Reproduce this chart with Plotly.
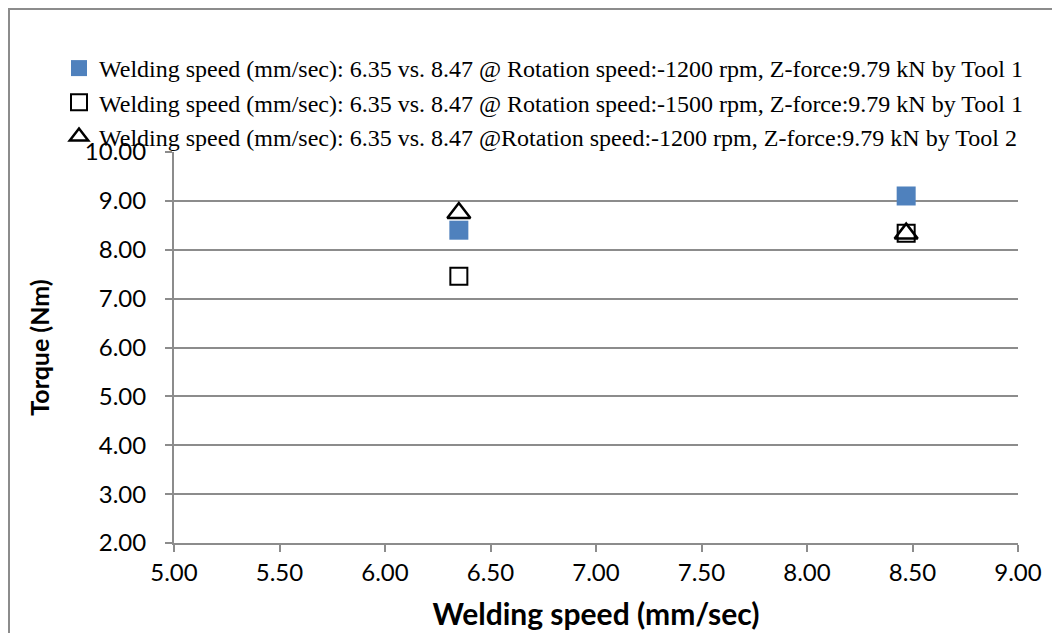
import plotly.graph_objects as go

speeds = [6.35, 8.47]
torque_1200_tool1 = [8.40, 9.10]
torque_1500_tool1 = [7.46, 8.34]
torque_1200_tool2 = [8.75, 8.33]

names = [
    "Welding speed (mm/sec): 6.35 vs. 8.47 @ Rotation speed:-1200 rpm, Z-force:9.79 kN by Tool 1",
    "Welding speed (mm/sec): 6.35 vs. 8.47 @ Rotation speed:-1500 rpm, Z-force:9.79 kN by Tool 1",
    "Welding speed (mm/sec): 6.35 vs. 8.47 @Rotation speed:-1200 rpm, Z-force:9.79 kN by Tool 2",
]

x_ticks = [5.0, 5.5, 6.0, 6.5, 7.0, 7.5, 8.0, 8.5, 9.0]
y_ticks = [2, 3, 4, 5, 6, 7, 8, 9, 10]

fig = go.Figure()
fig.add_trace(go.Scatter(x=speeds, y=torque_1200_tool1, mode="markers", name=names[0],
                         legendgroup="a",
                         marker=dict(symbol="square", size=19, color="#4F81BD",
                                     line=dict(color="#4F81BD", width=0))))
fig.add_trace(go.Scatter(x=speeds, y=torque_1500_tool1, mode="markers", name=names[1],
                         legendgroup="b",
                         marker=dict(symbol="square-open", size=17, color="black",
                                     line=dict(color="black", width=2))))
fig.add_trace(go.Scatter(x=speeds, y=torque_1200_tool2, mode="markers", name=names[2],
                         legendgroup="c",
                         marker=dict(symbol="triangle-up-open", size=20, color="black",
                                     line=dict(color="black", width=2.5))))

L, R, T, B = 166, 50, 144, 98
W, H = 1060, 633
pw, ph = W - L - R, H - T - B

fig.update_layout(
    width=W, height=H,
    margin=dict(l=L, r=R, t=T, b=B),
    paper_bgcolor="white", plot_bgcolor="white",
    showlegend=True,
    legend=dict(x=(51 - L) / pw, y=1 + (T - 38) / ph, xanchor="left", yanchor="top",
                font=dict(family="Liberation Serif", size=24, color="black"),
                tracegroupgap=0, itemwidth=30, bgcolor="rgba(0,0,0,0)"),
    xaxis=dict(range=[5, 9], tickvals=x_ticks, ticktext=[f"{v:.2f}" for v in x_ticks],
               showgrid=False, zeroline=False, showline=True, linecolor="#8C8C8C", linewidth=2,
               ticks="outside", ticklen=7, tickcolor="#8C8C8C", tickwidth=2,
               tickfont=dict(family="Lato", size=24, color="black"),
               title=dict(text="<b>Welding speed (mm/sec)</b>", standoff=19,
                          font=dict(family="Lato", size=30, color="black"))),
    yaxis=dict(range=[2, 10], tickvals=y_ticks, ticktext=[f"{v:.2f}" for v in y_ticks],
               showgrid=True, gridcolor="#8C8C8C", gridwidth=2, zeroline=False,
               showline=True, linecolor="#8C8C8C", linewidth=2,
               ticks="outside", ticklen=7, tickcolor="#8C8C8C", tickwidth=2,
               ticklabelstandoff=14,
               tickfont=dict(family="Lato", size=24, color="black"),
               title=dict(text="<b>Torque (Nm)</b>", standoff=28,
                          font=dict(family="Lato", size=25, color="black"))),
    shapes=[dict(type="rect", xref="paper", yref="paper",
                 x0=(1 - L) / pw, x1=1 + (R + 20) / pw,
                 y0=-(B + 20) / ph, y1=1 + (T - 1) / ph,
                 line=dict(color="#8C8C8C", width=2), fillcolor="rgba(0,0,0,0)", layer="below")],
)

fig.write_html("out.html")
